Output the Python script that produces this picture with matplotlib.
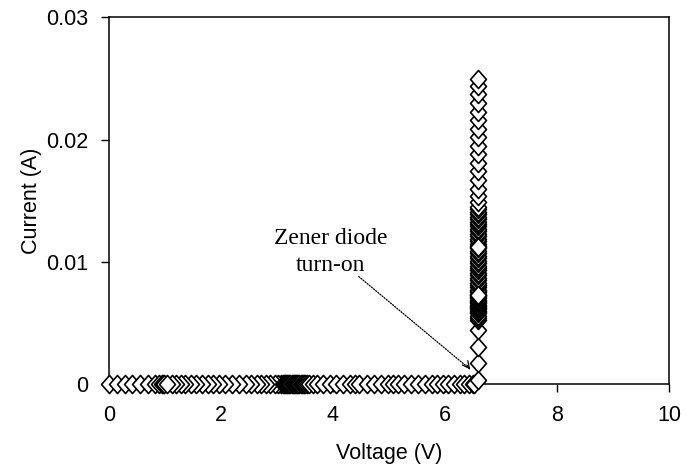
import matplotlib
matplotlib.use("Agg")
import matplotlib.pyplot as plt
from matplotlib.path import Path

# ---- data ----
# Voltage sweep below breakdown: current stays at 0 A
row_voltage_up = [0.00, 0.14, 0.28, 0.42, 0.56, 0.70, 0.82, 0.90, 0.94, 0.96, 0.98]
row_voltage_down = [3.08, 3.02, 2.96, 2.88, 2.80, 2.72, 2.64, 2.54, 2.44, 2.32, 2.20,
                    2.08, 1.96, 1.86, 1.76, 1.66, 1.56, 1.46, 1.36, 1.28, 1.20, 1.12, 1.04]
row_voltage_dense = [3.10, 3.12, 3.14, 3.16, 3.18, 3.20, 3.22, 3.24, 3.26, 3.28, 3.30,
                     3.32, 3.34, 3.36, 3.38, 3.40, 3.42, 3.44, 3.46, 3.48, 3.50, 3.53]
row_voltage_rest = [3.58, 3.64, 3.72, 3.82, 3.94, 4.06, 4.18, 4.30, 4.40, 4.46, 4.60,
                    4.74, 4.86, 4.98, 5.08, 5.16, 5.26, 5.40, 5.52, 5.64, 5.76, 5.86,
                    5.96, 6.06, 6.16, 6.26, 6.34, 6.42, 6.50, 6.52]
row_current = 0.0

# Breakdown column at the Zener voltage
zener_voltage = 6.59
column_current = [0.0003, 0.0017, 0.0030, 0.0044,
                  0.0052, 0.0054, 0.0056, 0.0058, 0.0059, 0.0060, 0.0061, 0.0062,
                  0.0063, 0.0064, 0.0065, 0.0066, 0.0067, 0.0068, 0.0069, 0.0070,
                  0.0071, 0.0072, 0.0073, 0.0074, 0.0075, 0.0076, 0.0077, 0.0079,
                  0.0081, 0.0083, 0.0085, 0.0087, 0.0089, 0.0091, 0.0093, 0.0095,
                  0.0097, 0.0099, 0.0101, 0.0103, 0.0105, 0.0107, 0.0109, 0.0111,
                  0.0113, 0.0115, 0.0117, 0.0119, 0.0121, 0.0123, 0.0125, 0.0127,
                  0.0129, 0.0131, 0.0133, 0.0135, 0.0137, 0.0139, 0.0141, 0.0143,
                  0.0145, 0.0149, 0.0154, 0.0160, 0.0167, 0.0174, 0.0181, 0.0188,
                  0.0195, 0.0202, 0.0209, 0.0216, 0.0223, 0.0230, 0.0237, 0.0244,
                  0.0250, 0.0112, 0.0073]

x_ticks = [0, 2, 4, 6, 8, 10]
y_ticks = [0, 0.01, 0.02, 0.03]
y_tick_labels = ["0", "0.01", "0.02", "0.03"]
x_label = "Voltage (V)"
y_label = "Current (A)"
note_text = "Zener diode\nturn-on"
note_xy = (3.96, 0.0108)
arrow_start = (4.46, 0.0088)
arrow_end = (6.45, 0.0012)

# ---- figure ----
fig = plt.figure(figsize=(6.95, 4.69), dpi=100)
ax = fig.add_axes([0.1568, 0.1812, 0.8058, 0.7815])

diamond = Path([(0, 1), (0.88, 0), (0, -1), (-0.88, 0), (0, 1)],
               [Path.MOVETO, Path.LINETO, Path.LINETO, Path.LINETO, Path.CLOSEPOLY])
mk = dict(marker=diamond, markersize=13, markerfacecolor="white",
          markeredgecolor="black", markeredgewidth=1.2, linestyle="none",
          clip_on=False, zorder=3)

row_v = row_voltage_up + row_voltage_down + row_voltage_dense + row_voltage_rest
ax.plot(row_v, [row_current] * len(row_v), **mk)
ax.plot([zener_voltage] * len(column_current), column_current, **mk)

ax.set_xlim(0, 10)
ax.set_ylim(0, 0.03)
ax.set_xticks(x_ticks)
ax.set_xticklabels([str(t) for t in x_ticks])
ax.set_yticks(y_ticks)
ax.set_yticklabels(y_tick_labels)

sans = "Liberation Sans"
for lab in ax.get_xticklabels() + ax.get_yticklabels():
    lab.set_fontfamily(sans)
    lab.set_fontsize(15.5)
ax.tick_params(axis="both", direction="out", length=6, width=1.0, pad=9, colors="black")
ax.set_xlabel(x_label, fontfamily=sans, fontsize=15.5, labelpad=12)
ax.set_ylabel(y_label, fontfamily=sans, fontsize=15.5, labelpad=3)
for s in ax.spines.values():
    s.set_linewidth(1.1)
    s.set_color("black")

ax.text(note_xy[0], note_xy[1], note_text, fontfamily="Liberation Serif",
        fontsize=17, ha="center", va="center", linespacing=1.35)
ax.annotate("", xy=arrow_end, xytext=arrow_start,
            arrowprops=dict(arrowstyle="-", linestyle=(0, (1, 1.2)), lw=0.9,
                            color="black", shrinkA=0, shrinkB=0))
ax.annotate("", xy=arrow_end, xytext=(arrow_end[0] - 0.06, arrow_end[1] + 0.00035),
            arrowprops=dict(arrowstyle="->,head_length=0.5,head_width=0.25", lw=0.9,
                            color="black", shrinkA=0, shrinkB=0))

fig.savefig("out.png", dpi=100, facecolor="white")
